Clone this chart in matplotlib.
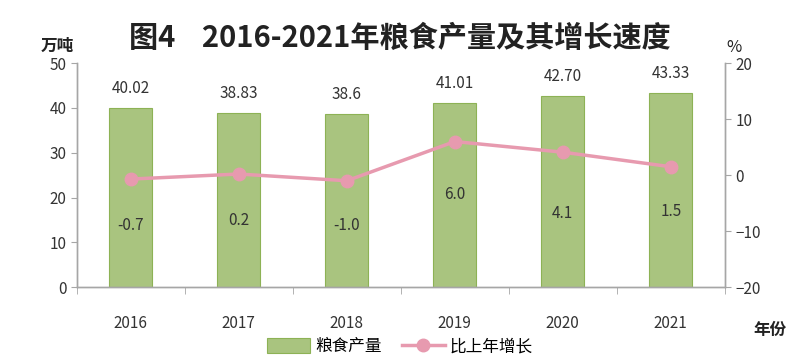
import matplotlib
matplotlib.use("Agg")
import matplotlib.pyplot as plt
import numpy as np

plt.rcParams['font.family'] = ['Noto Sans CJK SC', 'DejaVu Sans']

years = ["2016", "2017", "2018", "2019", "2020", "2021"]
output = [40.02, 38.83, 38.6, 41.01, 42.70, 43.33]
output_labels = ["40.02", "38.83", "38.6", "41.01", "42.70", "43.33"]
growth = [-0.7, 0.2, -1.0, 6.0, 4.1, 1.5]
growth_labels = ["-0.7", "0.2", "-1.0", "6.0", "4.1", "1.5"]

label_offsets_px = [46, 46, 45, 53, 61, 45]

fig = plt.figure(figsize=(8, 3.63), dpi=100)
ax = fig.add_axes([0.096, 0.209, 0.81, 0.617])
ax2 = ax.twinx()

x = np.arange(len(years))
bar_color = "#A9C47F"
edge_color = "#8DB255"
line_color = "#E79AAF"
axis_color = "#A6A6A6"

bars = ax.bar(x, output, width=0.4, color=bar_color, edgecolor=edge_color, linewidth=0.8, zorder=2, label="粮食产量")
for xi, v, s in zip(x, output, output_labels):
    ax.annotate(s, (xi, v), xytext=(0, 8), textcoords="offset points", ha="center", va="bottom", fontsize=11, color="#333333")

ax2.plot(x, growth, color=line_color, linewidth=2.5, marker="o", markersize=9,
         markerfacecolor=line_color, markeredgecolor=line_color, zorder=3, label="比上年增长")
for xi, v, s, off in zip(x, growth, growth_labels, label_offsets_px):
    ax2.annotate(s, (xi, v), xytext=(0, -off * 0.72), textcoords="offset points", ha="center", va="center", fontsize=11, color="#333333")

ax.set_xlim(-0.5, len(years) - 0.5)
ax.set_ylim(0, 50)
ax.set_yticks([0, 10, 20, 30, 40, 50])
ax2.set_ylim(-20, 20)
ax2.set_yticks([-20, -10, 0, 10, 20])

ax.set_xticks(x)
ax.set_xticklabels(years, fontsize=11, color="#333333")
ax.set_xticks(np.arange(-0.5, len(years), 1.0), minor=True)
ax.tick_params(axis="x", which="major", length=0, pad=20)
ax.tick_params(axis="x", which="minor", length=5, color=axis_color, direction="out")
ax.tick_params(axis="y", labelsize=11, labelcolor="#333333", color=axis_color, length=4, direction="out")
ax2.tick_params(axis="y", labelsize=11, labelcolor="#333333", color=axis_color, length=4, direction="out")

for a in (ax, ax2):
    a.spines["top"].set_visible(False)
    for s in ("left", "right", "bottom"):
        a.spines[s].set_color(axis_color)
        a.spines[s].set_linewidth(1)

fig.text(0.5, 0.895, "图4    2016-2021年粮食产量及其增长速度", ha="center", va="center", fontsize=21, fontweight="bold", color="#222222")
fig.text(0.071, 0.875, "万吨", ha="center", va="center", fontsize=12, fontweight="bold", color="#222222")
fig.text(0.918, 0.87, "%", ha="center", va="center", fontsize=12, color="#222222")
fig.text(0.963, 0.09, "年份", ha="center", va="center", fontsize=12, fontweight="bold", color="#222222")

h1, l1 = ax.get_legend_handles_labels()
h2, l2 = ax2.get_legend_handles_labels()
fig.legend(h1 + h2, l1 + l2, loc="center", bbox_to_anchor=(0.5, 0.045), ncol=2, frameon=False,
           fontsize=12, handlelength=2.6, handleheight=1.0, columnspacing=1.2, handletextpad=0.3)

fig.savefig("out.png", dpi=100)
